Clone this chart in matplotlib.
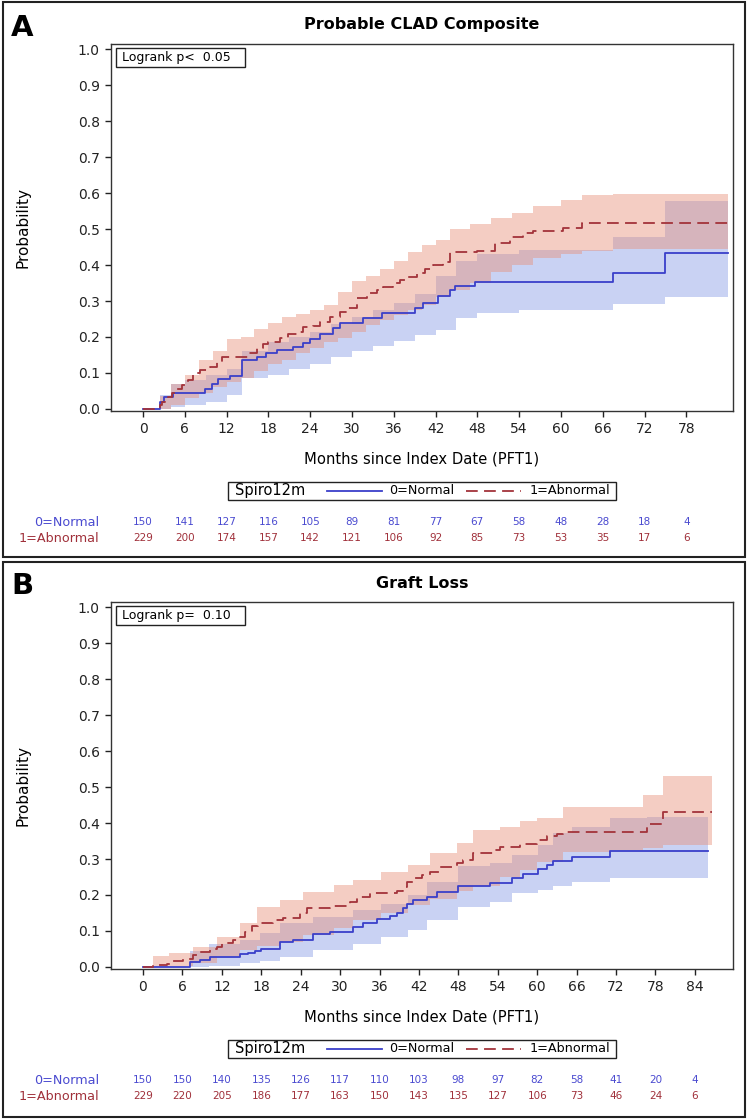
import numpy as np
import matplotlib
matplotlib.use("Agg")
import matplotlib.pyplot as plt
from matplotlib.patches import Rectangle
from matplotlib.lines import Line2D
from matplotlib.transforms import blended_transform_factory

plt.rcParams['font.family'] = ['DejaVu Sans']

# ---- Panel A: Probable CLAD Composite ----
a_blue_t = [0, 2.4, 3.0, 4.3, 8.9, 9.9, 10.8, 12.5, 14.2, 16.4, 17.7, 19.2, 21.5, 23.0, 24.0,
            25.4, 27.3, 28.3, 31.6, 34.3, 39.0, 40.2, 42.3, 44.1, 44.8, 47.7, 67.5, 74.9]
a_blue_y = [0, 0.02, 0.033, 0.045, 0.055, 0.07, 0.083, 0.092, 0.136, 0.144, 0.156, 0.164, 0.172, 0.183, 0.194,
            0.208, 0.225, 0.240, 0.253, 0.267, 0.281, 0.294, 0.314, 0.33, 0.342, 0.353, 0.378, 0.433]
a_blue_end = 84.0
a_red_t = [0, 2.4, 2.7, 3.2, 3.6, 4.2, 4.7, 5.6, 6.5, 7.2, 8.2, 9.6, 10.6, 11.3, 15.1, 16.4, 17.2, 17.9,
           19.7, 20.8, 22.5, 23.0, 24.4, 25.4, 26.8, 28.3, 29.3, 30.7, 32.2, 33.6, 34.4, 35.9, 36.9, 38.0,
           39.3, 40.5, 41.6, 43.1, 44.1, 47.9, 50.5, 52.7, 54.5, 56.0, 60.3, 63.0]
a_red_y = [0, 0.01, 0.019, 0.028, 0.033, 0.044, 0.055, 0.067, 0.08, 0.1, 0.108, 0.117, 0.131, 0.144, 0.155,
           0.169, 0.181, 0.186, 0.197, 0.208, 0.214, 0.228, 0.231, 0.242, 0.256, 0.269, 0.281, 0.308, 0.322,
           0.331, 0.339, 0.35, 0.358, 0.367, 0.378, 0.389, 0.4, 0.408, 0.436, 0.439, 0.461, 0.478, 0.489,
           0.494, 0.503, 0.517]
a_red_end = 84.0

a_bband_t = [0, 2.4, 4, 6, 9, 12, 14.2, 18, 21, 24, 27, 30, 33, 36, 39, 42, 45, 48, 54, 60, 67.5, 74.9]
a_bband_lo = [0, 0.0, 0.005, 0.01, 0.02, 0.04, 0.085, 0.095, 0.11, 0.125, 0.145, 0.16, 0.175, 0.19, 0.206,
              0.219, 0.253, 0.267, 0.275, 0.275, 0.292, 0.311]
a_bband_hi = [0, 0.04, 0.07, 0.08, 0.095, 0.11, 0.16, 0.185, 0.2, 0.215, 0.235, 0.255, 0.275, 0.295, 0.32,
              0.37, 0.41, 0.43, 0.442, 0.442, 0.478, 0.578]
a_rband_t = [0, 2.4, 4, 6, 8, 10, 12, 14, 16, 18, 20, 22, 24, 26, 28, 30, 32, 34, 36, 38, 40, 42, 44, 47,
             50, 53, 56, 60, 63, 67.5]
a_rband_lo = [0, 0, 0.01, 0.03, 0.045, 0.06, 0.075, 0.085, 0.105, 0.125, 0.137, 0.155, 0.17, 0.185, 0.197,
              0.215, 0.233, 0.247, 0.26, 0.275, 0.29, 0.31, 0.33, 0.35, 0.38, 0.40, 0.42, 0.43, 0.44, 0.445]
a_rband_hi = [0, 0.035, 0.07, 0.095, 0.135, 0.16, 0.195, 0.2, 0.222, 0.24, 0.255, 0.265, 0.275, 0.29, 0.325,
              0.355, 0.37, 0.39, 0.41, 0.435, 0.455, 0.47, 0.5, 0.515, 0.53, 0.545, 0.565, 0.58, 0.594, 0.597]
a_ticks = list(range(0, 79, 6))
a_risk_normal = [150, 141, 127, 116, 105, 89, 81, 77, 67, 58, 48, 28, 18, 4]
a_risk_abnormal = [229, 200, 174, 157, 142, 121, 106, 92, 85, 73, 53, 35, 17, 6]

# ---- Panel B: Graft Loss ----
b_blue_t = [0, 7.2, 8.7, 10.2, 14.8, 16.0, 17.0, 18.0, 20.9, 22.8, 25.9, 28.5, 32.0, 33.5, 35.6, 37.6,
            38.7, 39.6, 40.2, 41.1, 43.2, 44.7, 48.0, 52.8, 56.2, 57.8, 60.1, 61.5, 62.4, 65.3, 71.1]
b_blue_y = [0, 0.014, 0.019, 0.028, 0.036, 0.04, 0.045, 0.05, 0.069, 0.075, 0.092, 0.097, 0.111, 0.122,
            0.133, 0.142, 0.15, 0.164, 0.175, 0.186, 0.194, 0.208, 0.225, 0.233, 0.247, 0.258, 0.272, 0.283,
            0.294, 0.306, 0.322]
b_blue_end = 86.0
b_red_t = [0, 1.5, 3.6, 4.6, 6.1, 7.6, 8.7, 10.2, 11.3, 12.0, 13.7, 14.5, 15.5, 16.6, 17.5, 19.8, 21.3,
           23.9, 25.0, 28.5, 31.5, 32.6, 34.5, 38.7, 39.6, 40.2, 41.4, 42.4, 43.7, 45.2, 47.8, 48.7, 50.2,
           53.6, 54.3, 57.4, 60.0, 61.5, 63.0, 63.9, 76.7, 79.1]
b_red_y = [0, 0.006, 0.009, 0.017, 0.022, 0.033, 0.042, 0.05, 0.056, 0.067, 0.075, 0.083, 0.097, 0.114,
           0.122, 0.13, 0.136, 0.15, 0.164, 0.169, 0.18, 0.194, 0.205, 0.21, 0.222, 0.236, 0.247, 0.256,
           0.264, 0.278, 0.289, 0.297, 0.317, 0.325, 0.333, 0.342, 0.353, 0.364, 0.369, 0.375, 0.397, 0.431]
b_red_end = 86.6

b_bband_t = [0, 7.2, 10, 14.8, 17.8, 20.9, 25.9, 32, 36.2, 40.3, 43.2, 48, 52.8, 56.2, 60.1, 62.4, 65.3,
             71.1, 76.7]
b_bband_lo = [0, 0, 0.002, 0.01, 0.018, 0.028, 0.047, 0.065, 0.083, 0.102, 0.13, 0.167, 0.18, 0.205, 0.215,
              0.225, 0.236, 0.247, 0.247]
b_bband_hi = [0, 0.045, 0.065, 0.075, 0.094, 0.122, 0.14, 0.158, 0.176, 0.2, 0.235, 0.28, 0.29, 0.31, 0.34,
              0.372, 0.389, 0.414, 0.417]
b_rband_t = [0, 1.5, 4, 7.6, 11.3, 14.8, 17.3, 20.9, 24.4, 29, 32, 36.2, 40.3, 43.7, 47.8, 50.2, 54.3,
             57.4, 60, 63.9, 71.1, 76.1, 79.1]
b_rband_lo = [0, 0, 0.002, 0.01, 0.03, 0.047, 0.058, 0.069, 0.088, 0.108, 0.13, 0.15, 0.172, 0.19, 0.21,
              0.225, 0.25, 0.27, 0.292, 0.319, 0.325, 0.33, 0.339]
b_rband_hi = [0, 0.03, 0.04, 0.056, 0.083, 0.122, 0.167, 0.186, 0.208, 0.228, 0.242, 0.264, 0.283, 0.317,
              0.344, 0.381, 0.39, 0.405, 0.414, 0.444, 0.444, 0.478, 0.531]
b_ticks = list(range(0, 85, 6))
b_risk_normal = [150, 150, 140, 135, 126, 117, 110, 103, 98, 97, 82, 58, 41, 20, 4]
b_risk_abnormal = [229, 220, 205, 186, 177, 163, 150, 143, 135, 127, 106, 73, 46, 24, 6]

BLUE = '#3a3fc9'
RED = '#a3333a'
BLUE_FILL = '#6680dd'
RED_FILL = '#e8907a'
BLUE_TXT = '#4a4ad0'
RED_TXT = '#a0303a'
DASH = (6.5, 3.5)

W, H = 749, 1120
fig = plt.figure(figsize=(W / 100, H / 100), dpi=100)


def fx(px):
    return px / W


def fy(py):
    return 1 - py / H


def ext(t, y, end):
    return np.r_[t, end], np.r_[y, y[-1]]


def panel(top, letter, title, pval, xlim, ticks,
          bt, by, bend, rt, ry, rend,
          bbt, bblo, bbhi, rbt, rblo, rbhi,
          risk_n, risk_a):
    ax = fig.add_axes([fx(111), fy(top + 367), fx(622), 367 / H])
    # confidence bands
    t, lo = ext(bbt, bblo, bend)
    _, hi = ext(bbt, bbhi, bend)
    ax.fill_between(t, lo, hi, step='post', color=BLUE_FILL, alpha=0.35, lw=0)
    t, lo = ext(rbt, rblo, rend)
    _, hi = ext(rbt, rbhi, rend)
    ax.fill_between(t, lo, hi, step='post', color=RED_FILL, alpha=0.45, lw=0)
    # curves
    t, y = ext(bt, by, bend)
    ax.step(t, y, where='post', color=BLUE, lw=1.3)
    t, y = ext(rt, ry, rend)
    ax.step(t, y, where='post', color=RED, lw=1.3, dashes=DASH)

    ax.set_xlim(*xlim)
    ax.set_ylim(-0.0056, 1.014)
    ax.set_xticks(ticks)
    yt = np.arange(0, 1.01, 0.1)
    ax.set_yticks(yt)
    ax.set_yticklabels([f"{v:.1f}" for v in yt])
    ax.tick_params(direction='out', length=4, width=1, labelsize=10, pad=4, colors='#222222')
    for s in ax.spines.values():
        s.set_linewidth(1)
        s.set_color('#333333')
    ax.set_xlabel('Months since Index Date (PFT1)', fontsize=10.6, labelpad=11)
    ax.set_ylabel('Probability', fontsize=11)
    ax.yaxis.set_label_coords(-0.13, 0.5)

    # logrank box
    ax.add_patch(Rectangle((0.008, 0.937), 0.207, 0.052, transform=ax.transAxes,
                           fill=False, ec='#222222', lw=1))
    ax.text(0.017, 0.963, pval, transform=ax.transAxes, va='center', ha='left', fontsize=9)

    # title and letter
    fig.text(fx(422), fy(top - 19), title, ha='center', va='center', fontsize=11.5, fontweight='bold')
    fig.text(fx(11), fy(top - 16), letter, ha='left', va='center', fontsize=21, fontweight='bold')

    # legend
    ly = top + 447
    fig.patches.append(Rectangle((fx(228), fy(ly + 9)), fx(616 - 228), 18 / H, transform=fig.transFigure,
                                 fill=False, ec='#222222', lw=1))
    fig.text(fx(235), fy(ly), 'Spiro12m', ha='left', va='center', fontsize=10.5)
    fig.lines.append(Line2D([fx(327), fx(382)], [fy(ly), fy(ly)], transform=fig.transFigure,
                            color=BLUE, lw=1.3))
    fig.text(fx(389), fy(ly), '0=Normal', ha='left', va='center', fontsize=9.2)
    fig.lines.append(Line2D([fx(466), fx(521)], [fy(ly), fy(ly)], transform=fig.transFigure,
                            color=RED, lw=1.3, dashes=DASH))
    fig.text(fx(530), fy(ly), '1=Abnormal', ha='left', va='center', fontsize=9.2)

    # numbers at risk
    tr = blended_transform_factory(ax.transData, fig.transFigure)
    r1 = top + 478
    r2 = top + 494
    fig.text(fx(99), fy(r1), '0=Normal', ha='right', va='center', fontsize=9.2, color=BLUE_TXT)
    fig.text(fx(99), fy(r2), '1=Abnormal', ha='right', va='center', fontsize=9.2, color=RED_TXT)
    for tk, n0, n1 in zip(ticks, risk_n, risk_a):
        ax.text(tk, fy(r1), str(n0), transform=tr, ha='center', va='center', fontsize=7.5, color=BLUE_TXT)
        ax.text(tk, fy(r2), str(n1), transform=tr, ha='center', va='center', fontsize=7.5, color=RED_TXT)
    return ax


panel(44, 'A', 'Probable CLAD Composite', 'Logrank p<  0.05', (-4.6, 84.7), a_ticks,
      a_blue_t, a_blue_y, a_blue_end, a_red_t, a_red_y, a_red_end,
      a_bband_t, a_bband_lo, a_bband_hi, a_rband_t, a_rband_lo, a_rband_hi,
      a_risk_normal, a_risk_abnormal)
panel(602, 'B', 'Graft Loss', 'Logrank p=  0.10', (-4.87, 89.8), b_ticks,
      b_blue_t, b_blue_y, b_blue_end, b_red_t, b_red_y, b_red_end,
      b_bband_t, b_bband_lo, b_bband_hi, b_rband_t, b_rband_lo, b_rband_hi,
      b_risk_normal, b_risk_abnormal)

# panel frames
fig.patches.append(Rectangle((fx(3), fy(557)), fx(742), (557 - 2) / H, transform=fig.transFigure,
                             fill=False, ec='#222222', lw=1.5))
fig.patches.append(Rectangle((fx(3), fy(1117)), fx(742), (1117 - 562) / H, transform=fig.transFigure,
                             fill=False, ec='#222222', lw=1.5))

fig.savefig('out.png', dpi=100)
